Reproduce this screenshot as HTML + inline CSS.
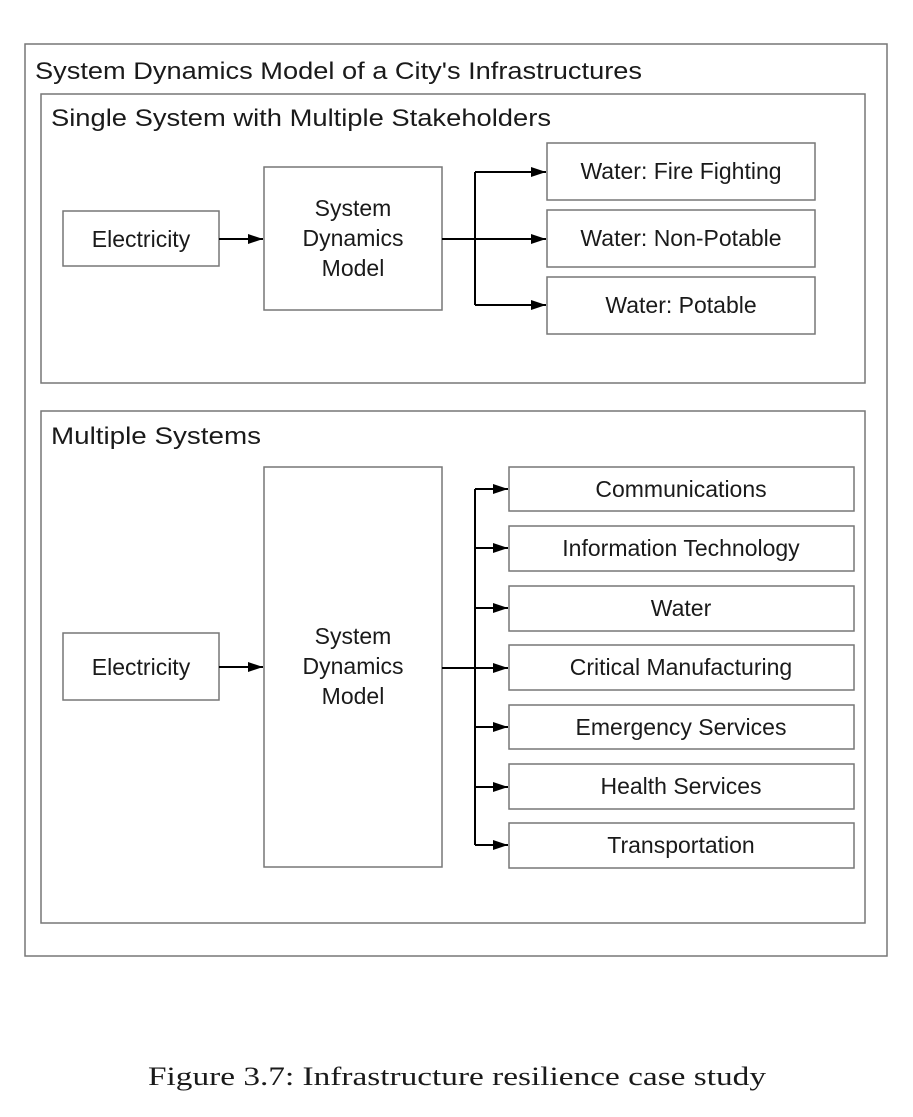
<!DOCTYPE html>
<html><head><meta charset="utf-8"><style>
html,body{margin:0;padding:0;background:#fff;}
svg{display:block;}
text{font-family:"Liberation Sans",sans-serif;fill:#1a1a1a;}
</style></head><body>
<svg width="913" height="1117" viewBox="0 0 913 1117" xmlns="http://www.w3.org/2000/svg">
<defs><marker id="a" viewBox="0 0 15 10" refX="15" refY="5" markerWidth="15" markerHeight="10" markerUnits="userSpaceOnUse" orient="auto"><path d="M0,0 L15,5 L0,10 z" fill="#000"/></marker></defs>
<g fill="none" stroke="#777" stroke-width="1.5">
<rect x="25" y="44" width="862" height="912"/>
<rect x="41" y="94" width="824" height="289"/>
<rect x="41" y="411" width="824" height="512"/>
<rect x="63" y="211" width="156" height="55"/>
<rect x="264" y="167" width="178" height="143"/>
<rect x="547" y="143" width="268" height="57"/>
<rect x="547" y="210" width="268" height="57"/>
<rect x="547" y="277" width="268" height="57"/>
<rect x="63" y="633" width="156" height="67"/>
<rect x="264" y="467" width="178" height="400"/>
<rect x="509" y="467" width="345" height="44"/>
<rect x="509" y="526" width="345" height="45"/>
<rect x="509" y="586" width="345" height="45"/>
<rect x="509" y="645" width="345" height="45"/>
<rect x="509" y="705" width="345" height="44"/>
<rect x="509" y="764" width="345" height="45"/>
<rect x="509" y="823" width="345" height="45"/>
</g>
<g fill="none" stroke="#000" stroke-width="2">
<line x1="219" y1="239" x2="263" y2="239" marker-end="url(#a)"/>
<line x1="442" y1="239" x2="546" y2="239" marker-end="url(#a)"/>
<path d="M475,172 L475,305"/>
<line x1="475" y1="172" x2="546" y2="172" marker-end="url(#a)"/>
<line x1="475" y1="305" x2="546" y2="305" marker-end="url(#a)"/>
<line x1="219" y1="667" x2="263" y2="667" marker-end="url(#a)"/>
<line x1="442" y1="668" x2="508" y2="668" marker-end="url(#a)"/>
<path d="M475,489 L475,845"/>
<line x1="475" y1="489" x2="508" y2="489" marker-end="url(#a)"/>
<line x1="475" y1="548" x2="508" y2="548" marker-end="url(#a)"/>
<line x1="475" y1="608" x2="508" y2="608" marker-end="url(#a)"/>
<line x1="475" y1="727" x2="508" y2="727" marker-end="url(#a)"/>
<line x1="475" y1="787" x2="508" y2="787" marker-end="url(#a)"/>
<line x1="475" y1="845" x2="508" y2="845" marker-end="url(#a)"/>
</g>
<g font-size="24">
<text x="35" y="79" textLength="607" lengthAdjust="spacingAndGlyphs">System Dynamics Model of a City's Infrastructures</text>
<text x="51" y="126" textLength="500" lengthAdjust="spacingAndGlyphs">Single System with Multiple Stakeholders</text>
<text x="51" y="444" textLength="210" lengthAdjust="spacingAndGlyphs">Multiple Systems</text>
</g>
<g font-size="23" text-anchor="middle">
<text x="141" y="247">Electricity</text>
<text x="353" y="216">System</text>
<text x="353" y="246">Dynamics</text>
<text x="353" y="276">Model</text>
<text x="681" y="179">Water: Fire Fighting</text>
<text x="681" y="246">Water: Non-Potable</text>
<text x="681" y="313">Water: Potable</text>
<text x="141" y="675">Electricity</text>
<text x="353" y="644">System</text>
<text x="353" y="674">Dynamics</text>
<text x="353" y="704">Model</text>
<text x="681" y="497">Communications</text>
<text x="681" y="556">Information Technology</text>
<text x="681" y="616">Water</text>
<text x="681" y="675">Critical Manufacturing</text>
<text x="681" y="735">Emergency Services</text>
<text x="681" y="794">Health Services</text>
<text x="681" y="853">Transportation</text>
</g>
<text x="148" y="1085" font-size="26" textLength="618" lengthAdjust="spacingAndGlyphs" style="font-family:'Liberation Serif',serif">Figure 3.7: Infrastructure resilience case study</text>
</svg>
</body></html>
